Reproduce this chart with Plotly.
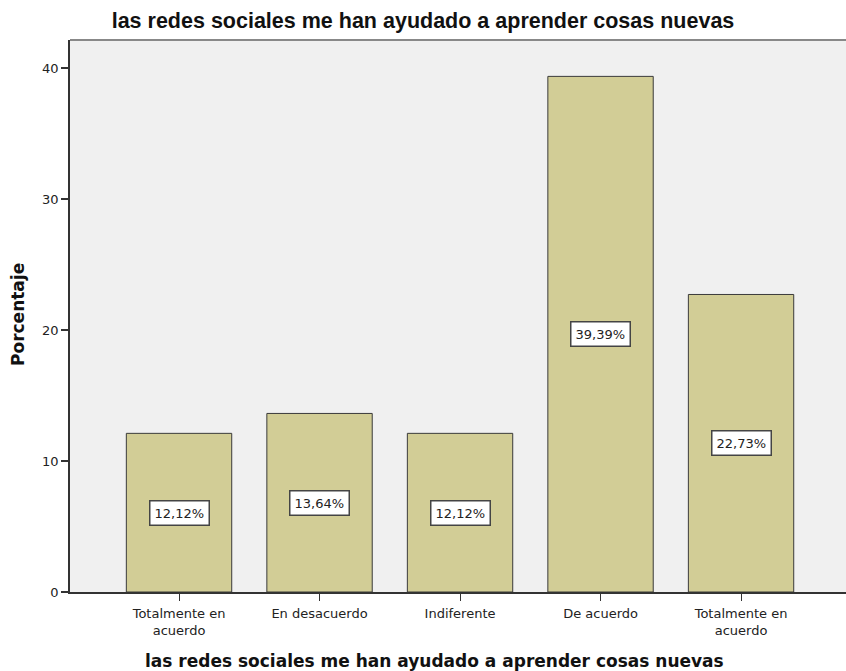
import plotly.graph_objects as go

categories = ["Totalmente en<br>acuerdo", "En desacuerdo", "Indiferente", "De acuerdo", "Totalmente en<br>acuerdo"]
values = [12.12, 13.64, 12.12, 39.39, 22.73]
labels = ["12,12%", "13,64%", "12,12%", "39,39%", "22,73%"]
y_ticks = [0, 10, 20, 30, 40]

positions = list(range(len(categories)))

fig = go.Figure()
fig.add_trace(go.Bar(
    x=positions, y=values, width=0.75,
    marker=dict(color="#D2CD96", line=dict(color="#3a3a3a", width=1)),
    hoverinfo="skip",
))

for p, v, t in zip(positions, values, labels):
    fig.add_annotation(
        x=p, y=v / 2, text=t, showarrow=False,
        font=dict(family="DejaVu Sans, sans-serif", size=13, color="#222"),
        bgcolor="white", bordercolor="#444", borderwidth=1.5, borderpad=4,
    )

fig.add_shape(type="line", xref="paper", yref="paper", x0=0, x1=1, y0=1, y1=1,
              line=dict(color="#888", width=2))

# axis titles as annotations (positioned like the reference)
fig.add_annotation(
    xref="paper", yref="paper", x=(434 - 70) / 776, y=(592 - 661) / 552,
    xanchor="center", yanchor="middle", showarrow=False,
    text="<b>las redes sociales me han ayudado a aprender cosas nuevas</b>",
    font=dict(family="DejaVu Sans, sans-serif", size=17, color="#111"),
)
fig.add_annotation(
    xref="paper", yref="paper", x=(18 - 70) / 776, y=(592 - 315) / 552,
    xanchor="center", yanchor="middle", showarrow=False, textangle=-90,
    text="<b>Porcentaje</b>",
    font=dict(family="DejaVu Sans, sans-serif", size=17, color="#111"),
)

fig.update_layout(
    width=846, height=671,
    margin=dict(l=70, r=0, t=40, b=79),
    paper_bgcolor="white", plot_bgcolor="#F0F0F0",
    showlegend=False,
    title=dict(
        text="<b>las redes sociales me han ayudado a aprender cosas nuevas</b>",
        x=0.5, xanchor="center", y=1 - 20 / 671, yanchor="middle",
        font=dict(family="Liberation Sans, Arial, sans-serif", size=21.5, color="#111"),
    ),
    font=dict(family="DejaVu Sans, sans-serif", size=12, color="#222"),
)

fig.update_xaxes(
    range=[-0.776, 4.747], automargin=False,
    tickvals=positions, ticktext=categories,
    ticks="outside", ticklen=7, tickcolor="#333", tickwidth=1,
    ticklabelstandoff=2,
    showline=True, linecolor="#333", linewidth=1.5,
    showgrid=False, zeroline=False,
    tickfont=dict(family="DejaVu Sans, sans-serif", size=13, color="#222"),
)
fig.update_yaxes(
    range=[0, 42.17], automargin=False,
    tickvals=y_ticks,
    ticks="outside", ticklen=7, tickcolor="#333", tickwidth=1.5,
    showline=True, linecolor="#333", linewidth=1.5,
    showgrid=False, zeroline=False,
    tickfont=dict(family="DejaVu Sans, sans-serif", size=13, color="#222"),
)

fig.write_html(
    "out.html",
    config={"displayModeBar": False},
    post_script="document.body.style.margin='0px';document.body.style.overflow='hidden';",
)
